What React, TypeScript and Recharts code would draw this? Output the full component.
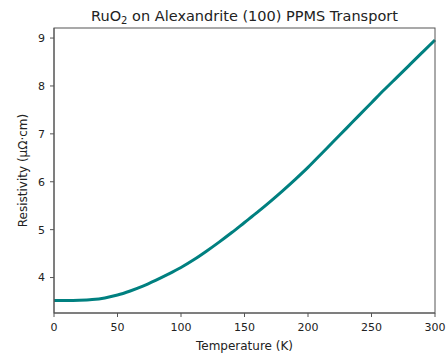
import { LineChart, Line, XAxis, YAxis } from "recharts";

// 온도 (K)
const temperatures = [
  0, 10, 20, 30, 40, 50, 60, 70, 80, 90, 100, 110, 120, 130, 140, 150, 160,
  170, 180, 190, 200, 210, 220, 230, 240, 250, 260, 270, 280, 290, 300,
];

// 비저항 (μΩ·cm)
const resistivity = [
  3.52, 3.52, 3.525, 3.54, 3.575, 3.635, 3.72, 3.82, 3.94, 4.07, 4.21, 4.37,
  4.55, 4.74, 4.94, 5.15, 5.36, 5.58, 5.81, 6.05, 6.3, 6.57, 6.84, 7.11, 7.38,
  7.65, 7.92, 8.18, 8.44, 8.7, 8.96,
];

const xTicks = [0, 50, 100, 150, 200, 250, 300];
const yTicks = [4, 5, 6, 7, 8, 9];

const W = 448;
const H = 353;
const M = { top: 28, right: 13, bottom: 40, left: 54 };
const FONT = "'DejaVu Sans', sans-serif";
const AXIS = "#555";

export default function App() {
  const data = temperatures.map((t, i) => ({ t, r: resistivity[i] }));
  const plotW = W - M.left - M.right;
  const plotH = H - M.top - M.bottom;

  return (
    <div style={{ position: "absolute", left: 0, top: 0, width: W, height: H, background: "#fff" }}>
      <LineChart
        width={W}
        height={H}
        data={data}
        margin={{ top: M.top, right: M.right, bottom: 0, left: 0 }}
        style={{ fontFamily: FONT }}
      >
        <XAxis
          dataKey="t"
          type="number"
          domain={[0, 300]}
          ticks={xTicks}
          height={M.bottom}
          tickSize={4}
          tickMargin={6}
          tick={{ fontSize: 11, fill: "#222" }}
          stroke={AXIS}
          tickLine={{ stroke: AXIS }}
        />
        <YAxis
          type="number"
          domain={[3.26, 9.21]}
          allowDataOverflow
          ticks={yTicks}
          width={M.left}
          tickSize={4}
          tickMargin={5}
          tick={{ fontSize: 11, fill: "#222" }}
          stroke={AXIS}
          tickLine={{ stroke: AXIS }}
        />
        <Line
          type="monotone"
          dataKey="r"
          stroke="#008080"
          strokeWidth={3}
          dot={false}
          isAnimationActive={false}
        />
      </LineChart>

      {/* 테두리, 제목, 축 이름 */}
      <svg
        width={W}
        height={H}
        style={{ position: "absolute", left: 0, top: 0, pointerEvents: "none", fontFamily: FONT }}
      >
        <rect x={M.left} y={M.top} width={plotW} height={plotH} fill="none" stroke={AXIS} />
        <text x={M.left + plotW / 2} y={21} textAnchor="middle" fontSize={14.5} fill="#222">
          RuO<tspan fontSize={10} dy={3}>2</tspan>
          <tspan dy={-3}> on Alexandrite (100) PPMS Transport</tspan>
        </text>
        <text x={M.left + plotW / 2} y={350} textAnchor="middle" fontSize={12} fill="#222">
          Temperature (K)
        </text>
        <text
          x={27}
          y={M.top + plotH / 2}
          textAnchor="middle"
          fontSize={12}
          fill="#222"
          transform={`rotate(-90 27 ${M.top + plotH / 2})`}
        >
          Resistivity (μΩ·cm)
        </text>
      </svg>
    </div>
  );
}
